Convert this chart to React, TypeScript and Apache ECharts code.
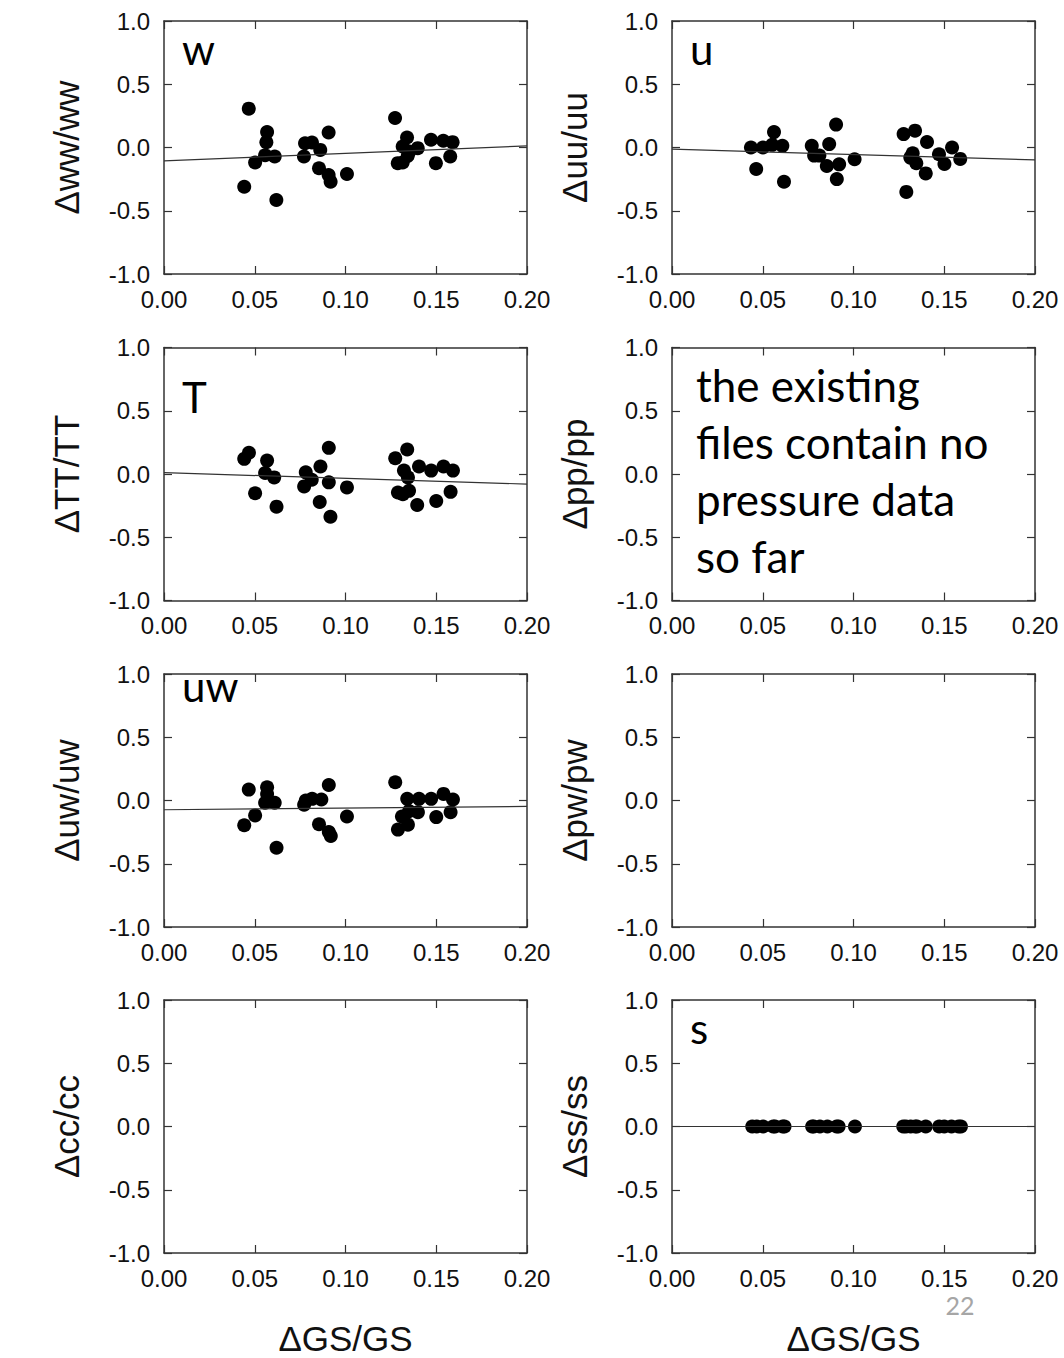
import React, { useEffect, useRef } from "react";
import * as echarts from "echarts";

// ---- data ----
const wX = [0.0467, 0.0442, 0.0502, 0.0568, 0.0564, 0.0557, 0.061, 0.0619, 0.0771, 0.0777, 0.0815, 0.0861, 0.0854, 0.0907, 0.0907, 0.0918, 0.1008, 0.1273, 0.1288, 0.1315, 0.1339, 0.1315, 0.1343, 0.1398, 0.1352, 0.1471, 0.1498, 0.1539, 0.159, 0.1577];
const wY = [0.307, -0.31, -0.119, 0.122, 0.042, -0.061, -0.071, -0.415, -0.071, 0.034, 0.04, -0.019, -0.164, 0.119, -0.217, -0.27, -0.209, 0.233, -0.124, -0.119, 0.079, 0.008, -0.066, -0.005, -0.032, 0.061, -0.124, 0.053, 0.042, -0.071];

const uX = [0.0435, 0.0464, 0.0501, 0.0562, 0.0552, 0.0608, 0.0617, 0.077, 0.0783, 0.0812, 0.0853, 0.0866, 0.0904, 0.0921, 0.0908, 0.1006, 0.1276, 0.1339, 0.1291, 0.1326, 0.1313, 0.1346, 0.1405, 0.1398, 0.1471, 0.1501, 0.1543, 0.1588];
const uY = [0.0, -0.17, 0.0, 0.122, 0.021, 0.013, -0.271, 0.013, -0.064, -0.064, -0.146, 0.027, 0.181, -0.133, -0.25, -0.093, 0.106, 0.133, -0.351, -0.045, -0.08, -0.125, 0.043, -0.205, -0.053, -0.13, 0.0, -0.09];

const tX = [0.0442, 0.0468, 0.0568, 0.0557, 0.0607, 0.0502, 0.062, 0.0781, 0.0814, 0.0772, 0.0862, 0.0908, 0.0908, 0.0858, 0.0917, 0.1008, 0.1274, 0.134, 0.1322, 0.1344, 0.1289, 0.1316, 0.135, 0.1405, 0.1395, 0.1472, 0.15, 0.154, 0.1592, 0.1579];
const tY = [0.12, 0.168, 0.106, 0.008, -0.027, -0.152, -0.258, 0.013, -0.045, -0.098, 0.059, 0.207, -0.066, -0.221, -0.338, -0.106, 0.125, 0.194, 0.027, -0.027, -0.146, -0.16, -0.133, 0.059, -0.245, 0.027, -0.213, 0.059, 0.027, -0.141];

const uwX = [0.0467, 0.0442, 0.0502, 0.0568, 0.0568, 0.0557, 0.061, 0.062, 0.0772, 0.0781, 0.0816, 0.0867, 0.0908, 0.0854, 0.0908, 0.0919, 0.1008, 0.1274, 0.1289, 0.1311, 0.134, 0.1344, 0.135, 0.1399, 0.1405, 0.1472, 0.15, 0.154, 0.1592, 0.1579];
const uwY = [0.086, -0.196, -0.118, 0.105, 0.052, -0.018, -0.018, -0.374, -0.034, 0.0, 0.013, 0.008, 0.123, -0.188, -0.249, -0.28, -0.126, 0.144, -0.23, -0.126, 0.013, -0.191, -0.084, -0.092, 0.013, 0.013, -0.131, 0.052, 0.008, -0.092];

const sX = [0.0442, 0.0467, 0.0502, 0.0557, 0.0568, 0.061, 0.062, 0.0772, 0.0781, 0.0815, 0.0856, 0.0907, 0.0918, 0.1008, 0.1274, 0.1289, 0.1315, 0.134, 0.135, 0.1398, 0.1472, 0.15, 0.154, 0.1579, 0.1592];
const sY = [0, 0, 0, 0, 0, 0, 0, 0, 0, 0, 0, 0, 0, 0, 0, 0, 0, 0, 0, 0, 0, 0, 0, 0, 0];

// straight fit lines: values at x = 0 and x = 0.2
const fitX = [0, 0.2];
const wFit = [-0.106, 0.013];
const uFit = [-0.013, -0.098];
const tFit = [0.011, -0.08];
const uwFit = [-0.073, -0.047];
const sFit = [0, 0];

// axes
const xMin = 0, xMax = 0.2, xStep = 0.05;
const yMin = -1, yMax = 1, yStep = 0.5;
const xTitle = "ΔGS/GS";

const panelNames = ["Δww/ww", "Δuu/uu", "ΔTT/TT", "Δpp/pp", "Δuw/uw", "Δpw/pw", "Δcc/cc", "Δss/ss"];
const panelTags = ["w", "u", "T", "", "uw", "", "", "s"];
const noteLines = ["the existing", "files contain no", "pressure data", "so far"];
const pageNumber = "22";

type Panel = { x: number[] | null; y: number[] | null; fit: number[] | null };
const panels: Panel[] = [
  { x: wX, y: wY, fit: wFit },
  { x: uX, y: uY, fit: uFit },
  { x: tX, y: tY, fit: tFit },
  { x: null, y: null, fit: null },
  { x: uwX, y: uwY, fit: uwFit },
  { x: null, y: null, fit: null },
  { x: null, y: null, fit: null },
  { x: sX, y: sY, fit: sFit },
];

const AX = "Liberation Sans, Arial, sans-serif";
const LABELF = "Lato, 'Open Sans', sans-serif";

export default function App() {
  const ref = useRef<HTMLDivElement>(null);
  useEffect(() => {
    if (!ref.current) return;
    const chart = echarts.init(ref.current, undefined, { renderer: "svg" });

    const colLeft = [164, 672];
    const rowTop = [21, 347.5, 674, 1000];
    const gw = 363, gh = 253;
    const lineC = "#333";

    const grids: any[] = [];
    const xAxes: any[] = [];
    const yAxes: any[] = [];
    const series: any[] = [];
    const graphics: any[] = [];

    panels.forEach((p, i) => {
      const col = i % 2;
      const row = Math.floor(i / 2);
      const left = colLeft[col];
      const top = rowTop[row];
      grids.push({ left, top, width: gw, height: gh, containLabel: false });

      const baseX = {
        type: "value", gridIndex: i, min: xMin, max: xMax, interval: xStep,
        splitLine: { show: false },
        axisLine: { show: true, onZero: false, lineStyle: { color: lineC, width: 1.5 } },
        axisTick: { show: true, inside: true, length: 8, lineStyle: { color: lineC, width: 1.2 } },
      };
      xAxes.push({
        ...baseX, position: "bottom",
        axisLabel: { show: true, fontSize: 24, fontFamily: AX, color: "#111", margin: 13, formatter: (v: number) => v.toFixed(2) },
        name: row === 3 ? xTitle : "",
        nameLocation: "middle", nameGap: 68,
        nameTextStyle: { fontSize: 35, fontFamily: AX, color: "#111" },
      });
      xAxes.push({ ...baseX, position: "top", axisLabel: { show: false } });

      const baseY = {
        type: "value", gridIndex: i, min: yMin, max: yMax, interval: yStep,
        splitLine: { show: false },
        axisLine: { show: true, onZero: false, lineStyle: { color: lineC, width: 1.5 } },
        axisTick: { show: true, inside: true, length: 8, lineStyle: { color: lineC, width: 1.2 } },
      };
      yAxes.push({
        ...baseY, position: "left",
        axisLabel: { show: true, fontSize: 24, fontFamily: AX, color: "#111", margin: 14, formatter: (v: number) => v.toFixed(1) },
        name: panelNames[i], nameLocation: "middle", nameGap: 80, nameRotate: 90,
        nameTextStyle: { fontSize: 35, fontFamily: AX, color: "#111" },
      });
      yAxes.push({ ...baseY, position: "right", axisLabel: { show: false } });

      if (p.fit) {
        series.push({
          type: "line", xAxisIndex: 2 * i, yAxisIndex: 2 * i,
          data: fitX.map((x, k) => [x, p.fit![k]]),
          symbol: "none", silent: true,
          lineStyle: { color: "#333", width: 1.2 },
        });
      }
      if (p.x && p.y) {
        series.push({
          type: "scatter", xAxisIndex: 2 * i, yAxisIndex: 2 * i,
          data: p.x.map((x, k) => [x, p.y![k]]),
          symbol: "circle", symbolSize: 14,
          itemStyle: { color: "#000", opacity: 1 },
        });
      }
      if (panelTags[i]) {
        const baseline = row === 1 ? 413 : row === 2 ? 702 : top + 44;
        graphics.push({
          type: "text", x: left + 18, y: baseline - 16,
          style: { text: panelTags[i], font: `42px ${LABELF}`, fill: "#000", verticalAlign: "middle", align: "left" },
        });
      }
    });

    noteLines.forEach((t, k) => {
      graphics.push({
        type: "text", x: 696, y: 401 + k * 57 - 16,
        style: { text: t, font: `44px ${LABELF}`, fill: "#000", verticalAlign: "middle", align: "left" },
      });
    });
    graphics.push({
      type: "text", x: 960, y: 1305,
      style: { text: pageNumber, font: `25px ${LABELF}`, fill: "#a6a6a6", verticalAlign: "middle", align: "center" },
    });

    chart.setOption({
      animation: false,
      backgroundColor: "#fff",
      grid: grids,
      xAxis: xAxes,
      yAxis: yAxes,
      series,
      graphic: graphics,
    });
    return () => chart.dispose();
  }, []);

  return (
    <div
      ref={ref}
      style={{ position: "absolute", left: 0, top: 0, width: 1064, height: 1358, background: "#fff" }}
    />
  );
}
